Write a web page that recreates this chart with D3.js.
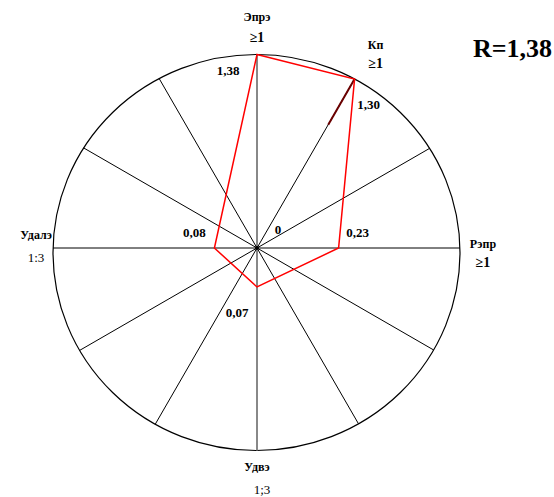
<!DOCTYPE html>
<html>
<head>
<meta charset="utf-8">
<script src="https://cdn.jsdelivr.net/npm/d3@7"></script>
<style>
  html, body { margin: 0; padding: 0; background: #fff; }
  svg { display: block; font-family: "Liberation Serif", "Times New Roman", serif; }
</style>
</head>
<body>
<div id="chart"></div>
<script>
// data
const axisNames = ["Эпрэ", "Кп", "Рэпр", "Удвэ", "Удалэ"];
const axisNorms = ["≥1", "≥1", "≥1", "1;3", "1:3"];
const axisAngles = [0, 30, 90, 180, 270];
const values = [1.38, 1.30, 0.23, 0.07, 0.08];
const valueLabels = ["1,38", "1,30", "0,23", "0,07", "0,08"];
const gridAngles = [0, 30, 60, 90, 120, 150, 180, 210, 240, 270, 300, 330];
const totalLabel = "R=1,38";

// layout (label offsets from the axis end / the vertex)
const nameOff = [[0, -34], [21, -30], [23, 0], [0, 21], [-17, -9]];
const normOff = [[0, -13], [21, -11], [23, 19], [5, 44], [-17, 14]];
const valOff = [[-29, 20], [14, 30], [19, -11], [-20, 30], [-20, -11]];

const width = 554, height = 497;
const hub = { x: 257, y: 248 };
const ell = { cx: 256.5, cy: 252.5, rx: 203.5, ry: 198 };

const svg = d3.select('#chart')
    .append('svg')
    .attr('width', width)
    .attr('height', height);

// fraction of the ray (0 = hub, 1 = rim)
const r = d3.scalePow().exponent(0.62).domain([0, 1]).range([0, 1]).clamp(true);

// distance from hub to the rim along an angle (deg, clockwise from top)
function rimDist(a) {
    const dx = Math.sin(a * Math.PI / 180), dy = -Math.cos(a * Math.PI / 180);
    const ox = hub.x - ell.cx, oy = hub.y - ell.cy;
    const A = dx * dx / (ell.rx * ell.rx) + dy * dy / (ell.ry * ell.ry);
    const B = 2 * (ox * dx / (ell.rx * ell.rx) + oy * dy / (ell.ry * ell.ry));
    const C = ox * ox / (ell.rx * ell.rx) + oy * oy / (ell.ry * ell.ry) - 1;
    return (-B + Math.sqrt(B * B - 4 * A * C)) / (2 * A);
}
function point(a, f) {
    const d = rimDist(a) * f;
    return [hub.x + Math.sin(a * Math.PI / 180) * d, hub.y - Math.cos(a * Math.PI / 180) * d];
}

svg.append('ellipse')
    .attr('cx', ell.cx).attr('cy', ell.cy)
    .attr('rx', ell.rx).attr('ry', ell.ry)
    .attr('fill', 'none')
    .attr('stroke', '#000')
    .attr('stroke-width', 1.2);

// spokes
svg.append('g')
    .selectAll('line')
    .data(gridAngles)
    .enter()
    .append('line')
    .attr('x1', hub.x).attr('y1', hub.y)
    .attr('x2', d => point(d, 1)[0])
    .attr('y2', d => point(d, 1)[1])
    .attr('stroke', d => (d % 180 === 0) ? '#888' : '#000')
    .attr('stroke-width', d => (d % 180 === 0) ? 2 : 1);

// dark overlap on the Кп spoke
svg.append('line')
    .attr('x1', point(axisAngles[1], 1)[0]).attr('y1', point(axisAngles[1], 1)[1])
    .attr('x2', point(axisAngles[1], 0.73)[0]).attr('y2', point(axisAngles[1], 0.73)[1])
    .attr('stroke', '#6a0000')
    .attr('stroke-width', 2);

svg.append('circle')
    .attr('cx', hub.x).attr('cy', hub.y).attr('r', 2)
    .attr('fill', '#000');

// value polygon
const pts = values.map((v, i) => point(axisAngles[i], r(v)));
svg.append('path')
    .attr('d', d3.line().curve(d3.curveLinearClosed)(pts))
    .attr('fill', 'none')
    .attr('stroke', '#ff0000')
    .attr('stroke-width', 1.5);

// value labels
svg.append('g')
    .selectAll('text')
    .data(valueLabels)
    .enter()
    .append('text')
    .attr('x', (d, i) => pts[i][0] + valOff[i][0])
    .attr('y', (d, i) => pts[i][1] + valOff[i][1])
    .attr('text-anchor', 'middle')
    .style('font-size', '13px')
    .style('font-weight', 'bold')
    .text(d => d);

svg.append('text')
    .attr('x', hub.x + 21).attr('y', hub.y - 14)
    .attr('text-anchor', 'middle')
    .style('font-size', '13px')
    .style('font-weight', 'bold')
    .text('0');

// axis names + norms
const ends = axisAngles.map(a => point(a, 1));
const lab = svg.append('g').selectAll('g')
    .data(axisNames)
    .enter()
    .append('g');
lab.append('text')
    .attr('x', (d, i) => ends[i][0] + nameOff[i][0])
    .attr('y', (d, i) => ends[i][1] + nameOff[i][1])
    .attr('text-anchor', 'middle')
    .style('font-size', '12px')
    .style('font-weight', 'bold')
    .text(d => d);
lab.append('text')
    .attr('x', (d, i) => ends[i][0] + normOff[i][0])
    .attr('y', (d, i) => ends[i][1] + normOff[i][1])
    .attr('text-anchor', 'middle')
    .style('font-size', (d, i) => axisNorms[i].startsWith('≥') ? '14px' : '13px')
    .style('font-weight', (d, i) => axisNorms[i].startsWith('≥') ? 'bold' : 'normal')
    .text((d, i) => axisNorms[i]);

svg.append('text')
    .attr('x', 552).attr('y', 57)
    .attr('text-anchor', 'end')
    .style('font-size', '26px')
    .style('font-weight', 'bold')
    .text(totalLabel);
</script>
</body>
</html>
